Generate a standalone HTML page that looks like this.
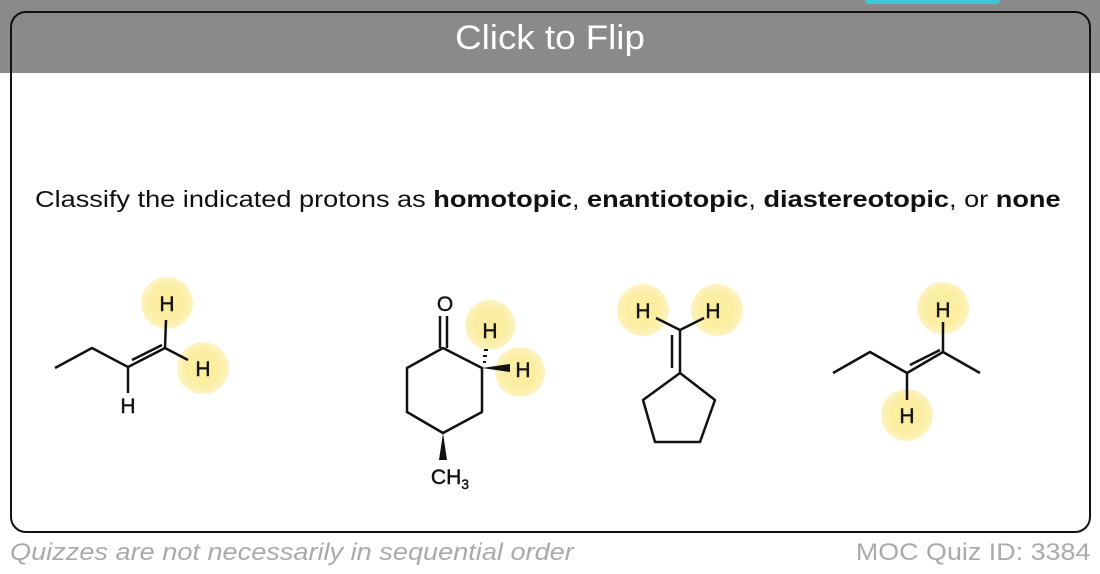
<!DOCTYPE html>
<html><head><meta charset="utf-8"><style>
body{margin:0;width:1100px;height:574px;background:#fff;position:relative;overflow:hidden;font-family:"Liberation Sans",sans-serif}
.band{position:absolute;left:0;top:0;width:1100px;height:73px;background:#8a8a8a}
.cyan{position:absolute;left:865px;top:0;width:135px;height:4px;background:#3cc8d8;border-radius:0 0 4px 4px}
.card{position:absolute;left:10px;top:11px;width:1077px;height:518px;border:2px solid #111;border-radius:16px}
.title{position:absolute;left:0;width:1100px;top:19px;text-align:center;color:#fff;font-size:34px;transform:scaleX(1.08)}
.q{position:absolute;left:35px;top:186px;font-size:23px;color:#111;white-space:nowrap;transform:scaleX(1.18);transform-origin:0 0}
.f{position:absolute;top:539px;font-size:24px;color:#aaa;white-space:nowrap}
</style></head><body>
<div class="band"></div><div class="cyan"></div>
<div class="card"></div>
<div class="title">Click to Flip</div>
<div class="q">Classify the indicated protons as <b>homotopic</b>, <b>enantiotopic</b>, <b>diastereotopic</b>, or <b>none</b></div>
<div class="f" style="left:10px;font-style:italic;transform:scaleX(1.13);transform-origin:0 0">Quizzes are not necessarily in sequential order</div>
<div class="f" style="right:10px;transform:scaleX(1.12);transform-origin:100% 0">MOC Quiz ID: 3384</div>
<svg width="1100" height="574" style="position:absolute;left:0;top:0">
<defs><radialGradient id="g"><stop offset="0.6" stop-color="#fbeea0"/><stop offset="1" stop-color="#fdf3c0"/></radialGradient></defs>
<g fill="url(#g)">
<circle cx="167" cy="303" r="26"/><circle cx="203" cy="368" r="26"/>
<circle cx="490" cy="325" r="25"/><circle cx="520" cy="372" r="25"/>
<circle cx="643" cy="310" r="26"/><circle cx="717" cy="310" r="26"/>
<circle cx="943" cy="308" r="26"/><circle cx="907" cy="415" r="26"/>
</g>
<g stroke="#111" stroke-width="2.5" fill="none" stroke-linejoin="round">
<polyline points="55,368 92,348 128,367 165,348 188,360"/>
<line x1="132" y1="360" x2="162" y2="345"/>
<line x1="165" y1="348" x2="166" y2="320"/>
<line x1="128" y1="367" x2="128" y2="393"/>
<polygon points="443,348 482,368 482,412 443,433 407,412 407,368"/>
<line x1="440" y1="348" x2="440" y2="316"/><line x1="447" y1="348" x2="447" y2="316"/>
<line x1="680" y1="330" x2="680" y2="373"/><line x1="672" y1="335" x2="672" y2="368"/>
<polyline points="656,318 680,330 704,318"/>
<polygon points="680,373 715,400 700,442 655,442 643,400"/>
<polyline points="833,373 870,352 907,373 943,352 980,373"/>
<line x1="910" y1="365" x2="940" y2="350"/>
<line x1="943" y1="352" x2="943" y2="322"/>
<line x1="907" y1="373" x2="907" y2="400"/>
</g>
<polygon points="443,433 439,460 447,460" fill="#111"/>
<polygon points="482,368 510,364 510,372" fill="#111"/>
<g stroke="#111" stroke-width="2"><line x1="483" y1="362" x2="486" y2="362"/><line x1="483" y1="356" x2="487" y2="356"/><line x1="484" y1="350" x2="488" y2="350"/></g>
<g font-family="Liberation Sans,sans-serif" font-size="21" fill="#111" stroke="#111" stroke-width="0.4" text-anchor="middle">
<text x="167" y="311">H</text><text x="203" y="376">H</text><text x="128" y="413">H</text>
<text x="445" y="311">O</text><text x="490" y="338">H</text><text x="523" y="377">H</text>
<text x="450" y="484">CH<tspan font-size="14" dy="5">3</tspan></text>
<text x="643" y="318">H</text><text x="713" y="318">H</text>
<text x="943" y="317">H</text><text x="907" y="423">H</text>
</g>
</svg>
</body></html>
